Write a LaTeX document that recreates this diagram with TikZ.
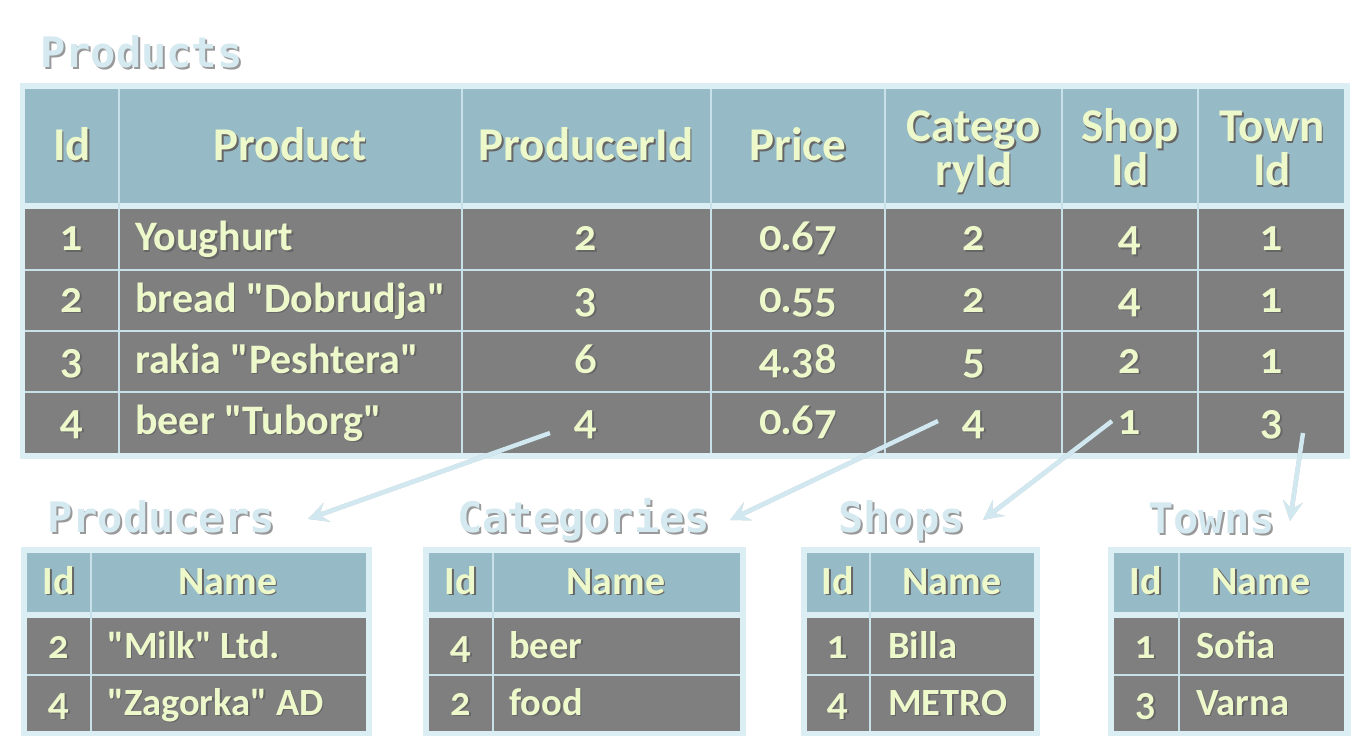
\documentclass[tikz,border=0pt]{standalone}
\usepackage{fontspec}
\setmainfont[Ligatures=TeXOff]{Carlito}
\newfontfamily\numfont[Numbers=OldStyle]{Lato}
\newfontfamily\titlefont{DejaVu Sans Mono}
\usetikzlibrary{arrows.meta}

\definecolor{band}{HTML}{DAEEF3}
\definecolor{headfill}{HTML}{97BBC6}
\definecolor{bodyfill}{HTML}{7F7F7F}
\definecolor{txt}{HTML}{EEF9CB}
\definecolor{gridline}{HTML}{C8E0E7}
\definecolor{titlecol}{HTML}{D5E9F0}
\definecolor{arrowcol}{HTML}{D2E8F0}

% text with a small drop shadow
\newcommand\sh[1]{\makebox[0pt][l]{\kern1.5pt\raisebox{-1.5pt}{\color{black!60}#1}}#1}
\newcommand\tsh[1]{\makebox[0pt][l]{\kern2pt\raisebox{-2pt}{\color{black!40}#1}}#1}
% numbers with old style figures
\newcommand\nm[1]{\sh{\numfont #1}}

\tikzset{
  hd/.style={text=txt,font=\bfseries\fontsize{47}{47}\selectfont,anchor=base,inner sep=0pt},
  cell/.style={text=txt,font=\bfseries\fontsize{42}{42}\selectfont,anchor=base,inner sep=0pt},
  shd/.style={text=txt,font=\bfseries\fontsize{40}{40}\selectfont,anchor=base,inner sep=0pt},
  scell/.style={text=txt,font=\bfseries\fontsize{38.5}{38.5}\selectfont,anchor=base,inner sep=0pt},
  ttl/.style={text=titlecol,font=\titlefont\bfseries\fontsize{42}{42}\selectfont,anchor=base west,inner sep=0pt},
  gridln/.style={draw=gridline,line width=2pt},
  link/.style={draw=arrowcol,line width=4.5pt,-{Stealth[length=20pt,width=20pt,inset=8pt]}},
  linkshadow/.style={draw=black,opacity=0.2,line width=4.5pt,-{Stealth[length=20pt,width=20pt,inset=8pt]}}
}

\begin{document}
\begin{tikzpicture}[x=1pt,y=-1pt]
\useasboundingbox (0,0) rectangle (1360,754);

% Products table
\node[ttl] (tproducts) at (40,68) {\tsh{Products}};
\fill[band] (20,83) rectangle (1350,459);
\fill[headfill] (25,89) rectangle (1344,203);
\fill[bodyfill] (25,209) rectangle (1344,453);
\draw[gridln] (119,89)--(119,453);
\draw[gridln] (462,89)--(462,453);
\draw[gridln] (711,89)--(711,453);
\draw[gridln] (885,89)--(885,453);
\draw[gridln] (1062,89)--(1062,453);
\draw[gridln] (1198,89)--(1198,453);
\draw[gridln] (25,270)--(1344,270);
\draw[gridln] (25,331)--(1344,331);
\draw[gridln] (25,392)--(1344,392);

\node[hd] (hid) at (72,161) {\sh{Id}};
\node[hd] (hproduct) at (290,161) {\sh{Product}};
\node[hd] (hproducer) at (586,161) {\sh{ProducerId}};
\node[hd] (hprice) at (798,161) {\sh{Price}};
\node[hd] (hcat1) at (974,142) {\sh{Catego}};
\node[hd] (hcat2) at (974,186) {\sh{ryId}};
\node[hd] (hshop1) at (1130,142) {\sh{Shop}};
\node[hd] (hshop2) at (1130,186) {\sh{Id}};
\node[hd] (htown1) at (1272,142) {\sh{Town}};
\node[hd] (htown2) at (1272,186) {\sh{Id}};

\node[cell] (pid1) at (72,251) {\nm{1}};
\node[cell,anchor=base west] (pname1) at (135,251) {\sh{Youghurt}};
\node[cell] (pprod1) at (586,251) {\nm{2}};
\node[cell] (pprice1) at (798,251) {\nm{0.67}};
\node[cell] (pcat1) at (974,251) {\nm{2}};
\node[cell] (pshop1) at (1130,251) {\nm{4}};
\node[cell] (ptown1) at (1272,251) {\nm{1}};

\node[cell] (pid2) at (72,312) {\nm{2}};
\node[cell,anchor=base west] (pname2) at (135,312) {\sh{bread "Dobrudja"}};
\node[cell] (pprod2) at (586,312) {\nm{3}};
\node[cell] (pprice2) at (798,312) {\nm{0.55}};
\node[cell] (pcat2) at (974,312) {\nm{2}};
\node[cell] (pshop2) at (1130,312) {\nm{4}};
\node[cell] (ptown2) at (1272,312) {\nm{1}};

\node[cell] (pid3) at (72,373) {\nm{3}};
\node[cell,anchor=base west] (pname3) at (135,373) {\sh{rakia "Peshtera"}};
\node[cell] (pprod3) at (586,373) {\nm{6}};
\node[cell] (pprice3) at (798,373) {\nm{4.38}};
\node[cell] (pcat3) at (974,373) {\nm{5}};
\node[cell] (pshop3) at (1130,373) {\nm{2}};
\node[cell] (ptown3) at (1272,373) {\nm{1}};

\node[cell] (pid4) at (72,434) {\nm{4}};
\node[cell,anchor=base west] (pname4) at (135,434) {\sh{beer "Tuborg"}};
\node[cell] (pprod4) at (586,434) {\nm{4}};
\node[cell] (pprice4) at (798,434) {\nm{0.67}};
\node[cell] (pcat4) at (974,434) {\nm{4}};
\node[cell] (pshop4) at (1130,434) {\nm{1}};
\node[cell] (ptown4) at (1272,434) {\nm{3}};

% Producers table
\node[ttl] (tproducers) at (47,532) {\tsh{Producers}};
\fill[band] (21,547) rectangle (372,736);
\fill[headfill] (27,553) rectangle (366,612);
\fill[bodyfill] (27,618) rectangle (366,731);
\draw[gridln] (91,553)--(91,731);
\draw[gridln] (27,675)--(366,675);
\node[shd] (prid) at (59,594) {\sh{Id}};
\node[shd] (prname) at (228,594) {\sh{Name}};
\node[scell] (prid1) at (59,658) {\nm{2}};
\node[scell,anchor=base west] (prname1) at (107,658) {\sh{"Milk" Ltd.}};
\node[scell] (prid2) at (59,715) {\nm{4}};
\node[scell,anchor=base west] (prname2) at (107,715) {\sh{"Zagorka" AD}};

% Categories table
\node[ttl] (tcategories) at (457,532) {\tsh{Categories}};
\fill[band] (423,547) rectangle (746,736);
\fill[headfill] (429,553) rectangle (740,612);
\fill[bodyfill] (429,618) rectangle (740,731);
\draw[gridln] (493,553)--(493,731);
\draw[gridln] (429,675)--(740,675);
\node[shd] (cid) at (461,594) {\sh{Id}};
\node[shd] (cname) at (616,594) {\sh{Name}};
\node[scell] (cid1) at (461,658) {\nm{4}};
\node[scell,anchor=base west] (cname1) at (509,658) {\sh{beer}};
\node[scell] (cid2) at (461,715) {\nm{2}};
\node[scell,anchor=base west] (cname2) at (509,715) {\sh{food}};

% Shops table
\node[ttl] (tshops) at (838,532) {\tsh{Shops}};
\fill[band] (801,547) rectangle (1040,736);
\fill[headfill] (807,553) rectangle (1034,612);
\fill[bodyfill] (807,618) rectangle (1034,731);
\draw[gridln] (870,553)--(870,731);
\draw[gridln] (807,675)--(1034,675);
\node[shd] (sid) at (838,594) {\sh{Id}};
\node[shd] (sname) at (952,594) {\sh{Name}};
\node[scell] (sid1) at (838,658) {\nm{1}};
\node[scell,anchor=base west] (sname1) at (888,658) {\sh{Billa}};
\node[scell] (sid2) at (838,715) {\nm{4}};
\node[scell,anchor=base west] (sname2) at (888,715) {\sh{METRO}};

% Towns table
\node[ttl] (ttowns) at (1148,533) {\tsh{Towns}};
\fill[band] (1108,547) rectangle (1351,736);
\fill[headfill] (1114,553) rectangle (1344,612);
\fill[bodyfill] (1114,618) rectangle (1344,731);
\draw[gridln] (1179,553)--(1179,731);
\draw[gridln] (1114,675)--(1344,675);
\node[shd] (wid) at (1146,594) {\sh{Id}};
\node[shd] (wname) at (1261,594) {\sh{Name}};
\node[scell] (wid1) at (1146,658) {\nm{1}};
\node[scell,anchor=base west] (wname1) at (1196,658) {\sh{Sofia}};
\node[scell] (wid2) at (1146,715) {\nm{3}};
\node[scell,anchor=base west] (wname2) at (1196,715) {\sh{Varna}};

% foreign key arrows
\coordinate (fkprod) at (550,433);
\coordinate (toprod) at (308,519);
\coordinate (fkcat) at (938,421);
\coordinate (tocat) at (730,520);
\coordinate (fkshop) at (1112,421);
\coordinate (toshop) at (983,520);
\coordinate (fktown) at (1303,433);
\coordinate (totown) at (1290,521);
\begin{scope}[shift={(2,2)}]
\draw[linkshadow] (fkprod)--(toprod);
\draw[linkshadow] (fkcat)--(tocat);
\draw[linkshadow] (fkshop)--(toshop);
\draw[linkshadow] (fktown)--(totown);
\end{scope}
\draw[link] (fkprod)--(toprod);
\draw[link] (fkcat)--(tocat);
\draw[link] (fkshop)--(toshop);
\draw[link] (fktown)--(totown);
\end{tikzpicture}
\end{document}
